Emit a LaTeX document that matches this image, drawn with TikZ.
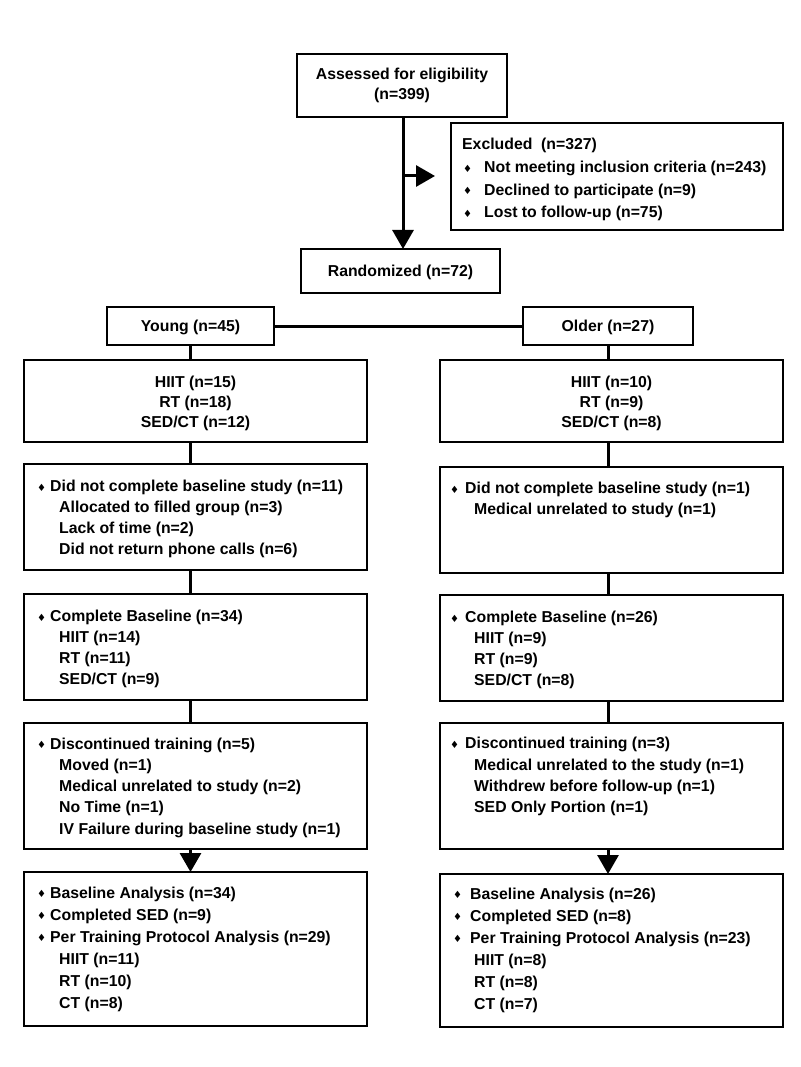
\documentclass[tikz,border=0pt]{standalone}
\usepackage{fontspec}
\setmainfont{Liberation Sans}
\newfontfamily\diafont{DejaVu Sans}
\usetikzlibrary{arrows.meta}
\newcommand{\dia}{{\diafont\fontsize{10}{10}\selectfont ♦}}
\newcommand{\bul}[1]{\makebox[#1][l]{\hspace*{-0.5pt}\raisebox{0.3pt}{\dia}}}
\newcommand{\boxat}[5]{\node[box,minimum width={#4-#2},minimum height={#5-#3}] (#1) at ({(#2+#4)/2},{(#3+#5)/2}) {};}
\begin{document}
\begin{tikzpicture}[x=1pt,y=-1pt,
  font=\bfseries\fontsize{15.8}{21}\selectfont,
  box/.style={draw, line width=1.8pt, inner sep=0pt, outer sep=0pt},
  txt/.style={anchor=base west, align=left, inner sep=0pt},
  ctxt/.style={anchor=base, align=center, inner sep=0pt},
  conn/.style={line width=3pt},
  arr/.style={line width=3pt, -{Triangle[width=21pt,length=19pt]}}]
\useasboundingbox (0,0) rectangle (800,1067);
\fill[white] (0,0) rectangle (800,1067);
% boxes
\boxat{assess}{297}{54}{507}{117}
\boxat{excl}{451}{123}{783}{230}
\boxat{rand}{301}{249}{500}{293}
\boxat{young}{107}{307}{274}{345}
\boxat{older}{523}{307}{693}{345}
\boxat{Lgrp}{24}{360}{367}{442}
\boxat{Rgrp}{440}{360}{783}{442}
\boxat{Ldnc}{24}{464}{367}{570}
\boxat{Rdnc}{440}{467}{783}{573}
\boxat{Lcb}{24}{594}{367}{700}
\boxat{Rcb}{440}{595}{783}{701}
\boxat{Ldisc}{24}{723}{367}{849}
\boxat{Rdisc}{440}{723}{783}{849}
\boxat{Lfin}{24}{872}{367}{1026}
\boxat{Rfin}{440}{874}{783}{1027}
% texts (base anchor = baseline of the last line)
\node[ctxt, font=\bfseries\fontsize{15.8}{20}\selectfont] (tassess) at (402,100) {Assessed for eligibility\\(n=399)};
\node[txt, font=\bfseries\fontsize{15.8}{22.7}\selectfont] (texcl) at (462,218) {Excluded\ \ (n=327)\\\hspace*{1.5pt}\bul{20.5pt}Not meeting inclusion criteria (n=243)\\\hspace*{1.5pt}\bul{20.5pt}Declined to participate (n=9)\\\hspace*{1.5pt}\bul{20.5pt}Lost to follow-up (n=75)};
\node[ctxt] (trand) at (400.5,276) {Randomized (n=72)};
\node[ctxt] (tyoung) at (190.5,331) {Young (n=45)};
\node[ctxt] (tolder) at (608,331) {Older (n=27)};
\node[ctxt, font=\bfseries\fontsize{15.8}{20}\selectfont] (tLgrp) at (195.5,427) {HIIT (n=15)\\RT (n=18)\\SED/CT (n=12)};
\node[ctxt, font=\bfseries\fontsize{15.8}{20}\selectfont] (tRgrp) at (611.5,427) {HIIT (n=10)\\RT (n=9)\\SED/CT (n=8)};
\node[txt, font=\bfseries\fontsize{15.8}{20.7}\selectfont] (tLdnc) at (37.5,554) {\bul{12.5pt}Did not complete baseline study (n=11)\\\hspace*{21.5pt}Allocated to filled group (n=3)\\\hspace*{21.5pt}Lack of time (n=2)\\\hspace*{21.5pt}Did not return phone calls (n=6)};
\node[txt, font=\bfseries\fontsize{15.8}{20.7}\selectfont] (tRdnc) at (450.5,514.5) {\bul{14.5pt}Did not complete baseline study (n=1)\\\hspace*{23.5pt}Medical unrelated to study (n=1)};
\node[txt, font=\bfseries\fontsize{15.8}{20.7}\selectfont] (tLcb) at (37.5,684) {\bul{12.5pt}Complete Baseline (n=34)\\\hspace*{21.5pt}HIIT (n=14)\\\hspace*{21.5pt}RT (n=11)\\\hspace*{21.5pt}SED/CT (n=9)};
\node[txt, font=\bfseries\fontsize{15.8}{20.7}\selectfont] (tRcb) at (450.5,685) {\bul{14.5pt}Complete Baseline (n=26)\\\hspace*{23.5pt}HIIT (n=9)\\\hspace*{23.5pt}RT (n=9)\\\hspace*{23.5pt}SED/CT (n=8)};
\node[txt, font=\bfseries\fontsize{15.8}{21.2}\selectfont] (tLdisc) at (37.5,834) {\bul{12.5pt}Discontinued training (n=5)\\\hspace*{21.5pt}Moved (n=1)\\\hspace*{21.5pt}Medical unrelated to study (n=2)\\\hspace*{21.5pt}No Time (n=1)\\\hspace*{21.5pt}IV Failure during baseline study (n=1)};
\node[txt, font=\bfseries\fontsize{15.8}{21.2}\selectfont] (tRdisc) at (450.5,812.5) {\bul{14.5pt}Discontinued training (n=3)\\\hspace*{23.5pt}Medical unrelated to the study (n=1)\\\hspace*{23.5pt}Withdrew before follow-up (n=1)\\\hspace*{23.5pt}SED Only Portion (n=1)};
\node[txt, font=\bfseries\fontsize{15.8}{22}\selectfont] (tLfin) at (37.5,1008) {\bul{12.5pt}Baseline Analysis (n=34)\\\bul{12.5pt}Completed SED (n=9)\\\bul{12.5pt}Per Training Protocol Analysis (n=29)\\\hspace*{21.5pt}HIIT (n=11)\\\hspace*{21.5pt}RT (n=10)\\\hspace*{21.5pt}CT (n=8)};
\node[txt, font=\bfseries\fontsize{15.8}{22}\selectfont] (tRfin) at (453.5,1009) {\bul{16.5pt}Baseline Analysis (n=26)\\\bul{16.5pt}Completed SED (n=8)\\\bul{16.5pt}Per Training Protocol Analysis (n=23)\\\hspace*{20.5pt}HIIT (n=8)\\\hspace*{20.5pt}RT (n=8)\\\hspace*{20.5pt}CT (n=7)};
% connectors
\coordinate (br) at (403,176);
\draw[arr] (assess.south -| br) -- (rand.north -| br);
\draw[arr, shorten >=16pt] (br) -- (excl.west |- br);
\draw[conn] (young.east) -- (older.west);
\draw[conn] (young.south) -- (Lgrp.north -| young.south);
\draw[conn] (older.south) -- (Rgrp.north -| older.south);
\draw[conn] (Lgrp.south -| young.south) -- (Ldnc.north -| young.south);
\draw[conn] (Rgrp.south -| older.south) -- (Rdnc.north -| older.south);
\draw[conn] (Ldnc.south -| young.south) -- (Lcb.north -| young.south);
\draw[conn] (Rdnc.south -| older.south) -- (Rcb.north -| older.south);
\draw[conn] (Lcb.south -| young.south) -- (Ldisc.north -| young.south);
\draw[conn] (Rcb.south -| older.south) -- (Rdisc.north -| older.south);
\draw[arr] (Ldisc.south -| young.south) -- (Lfin.north -| young.south);
\draw[arr] (Rdisc.south -| older.south) -- (Rfin.north -| older.south);
\end{tikzpicture}
\end{document}
